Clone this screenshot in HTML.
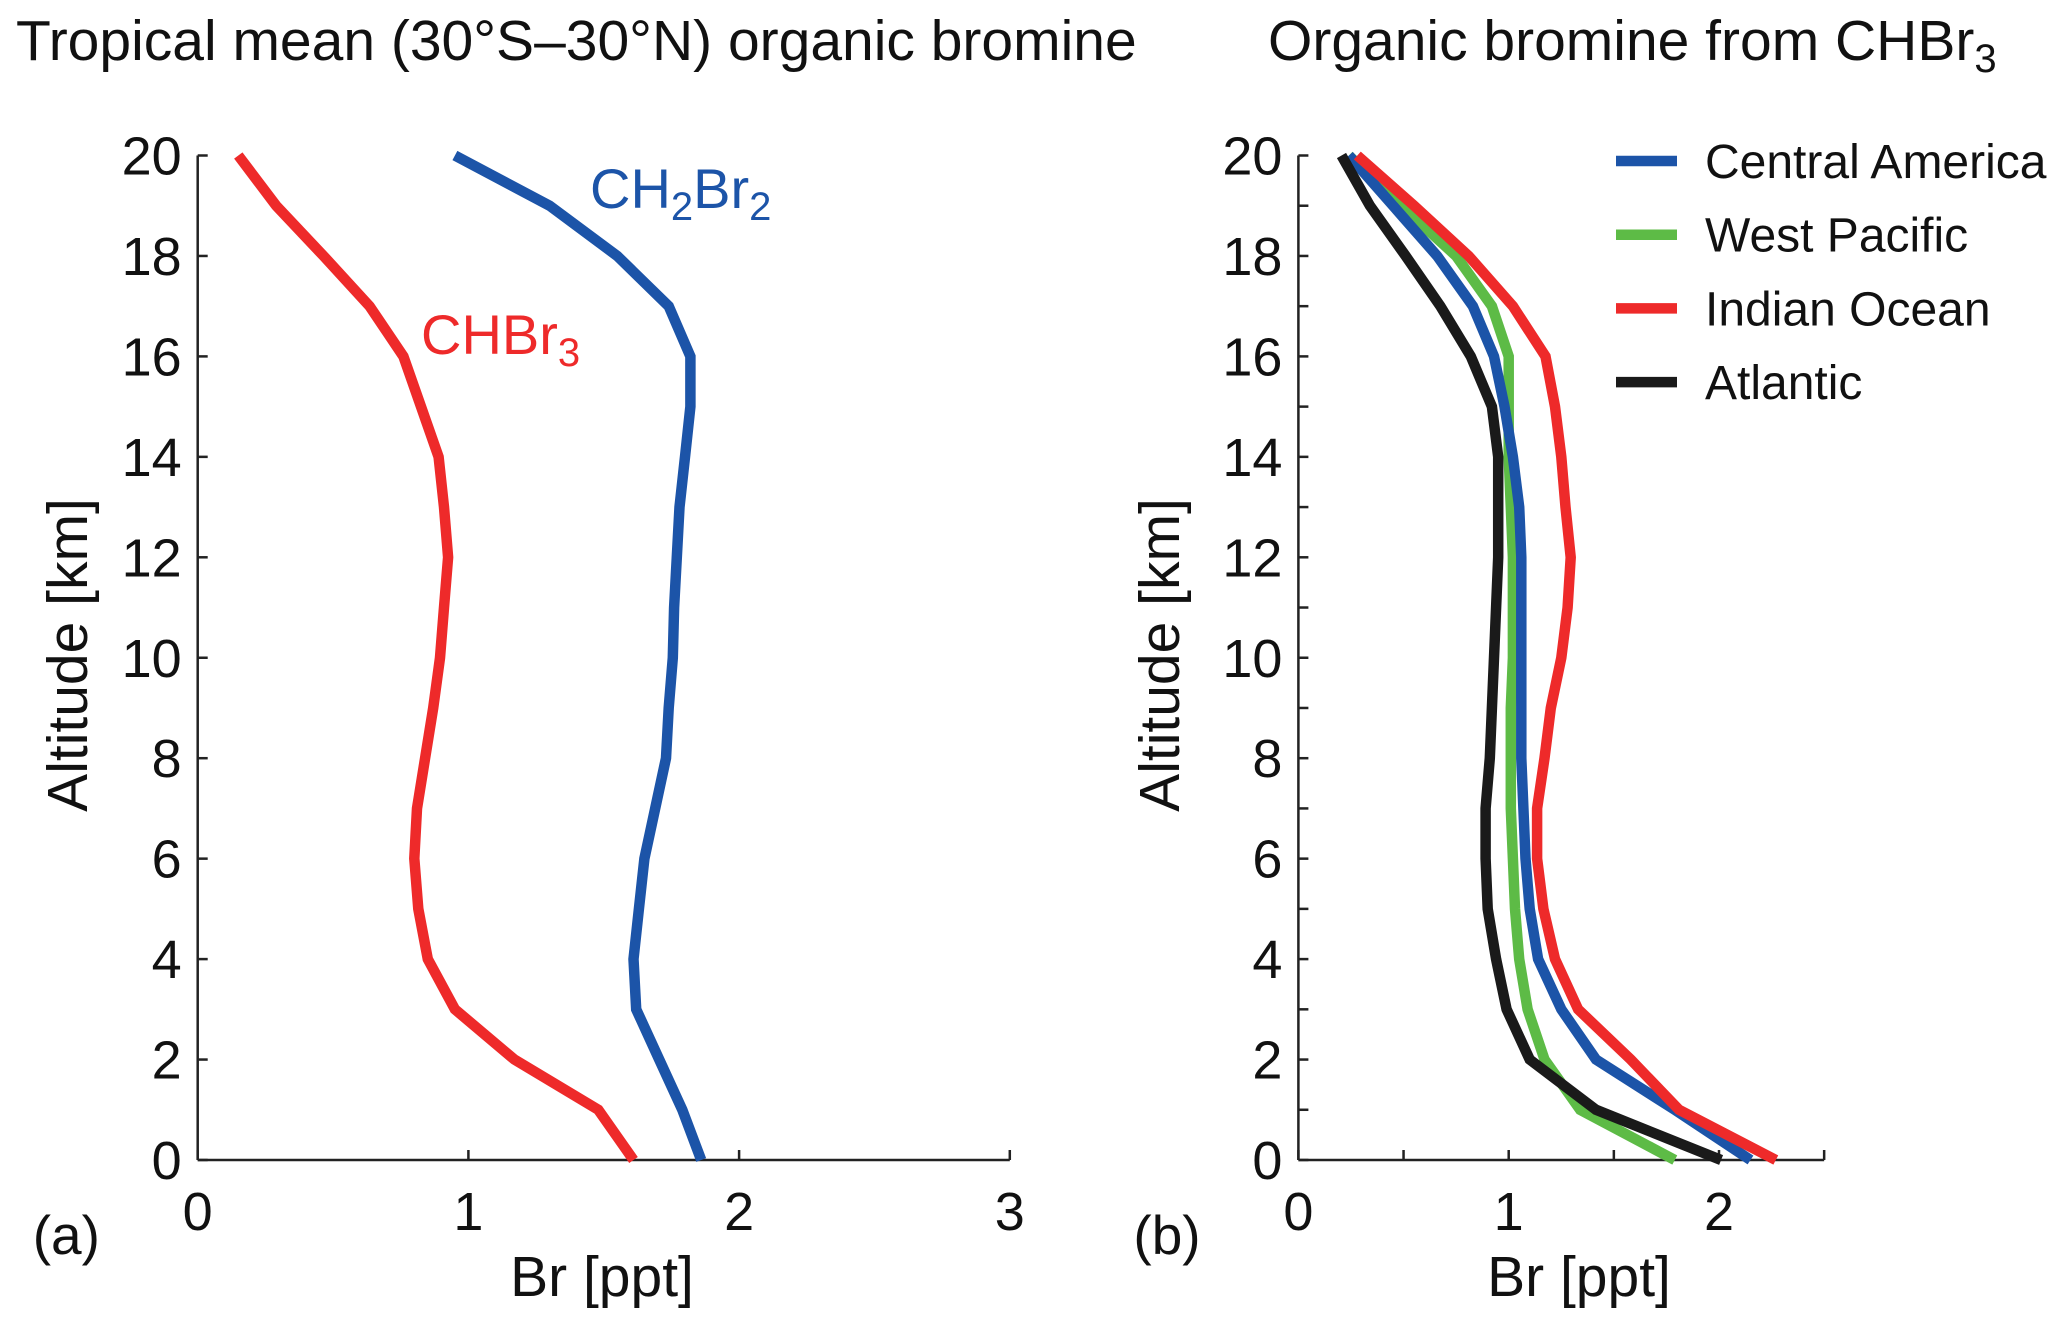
<!DOCTYPE html>
<html><head><meta charset="utf-8"><style>
html,body{margin:0;padding:0;background:#fff;}
svg{display:block;font-family:"Liberation Sans",sans-serif;}
</style></head><body>
<svg id="chart" width="2067" height="1321" viewBox="0 0 2067 1321">
<text x="16" y="60" font-size="57" fill="#111">Tropical mean (30°S–30°N) organic bromine</text>
<text x="1268" y="60" font-size="57" fill="#111">Organic bromine from CHBr<tspan font-size="40" dy="12">3</tspan></text>
<g id="pa"></g>
<g id="pb"></g>
</svg>
<script>
const altitudes=[0,1,2,3,4,5,6,7,8,9,10,11,12,13,14,15,16,17,18,19,20];
const chbr3=[1.61,1.48,1.17,0.95,0.85,0.815,0.80,0.81,0.84,0.87,0.895,0.91,0.925,0.91,0.89,0.825,0.76,0.635,0.465,0.29,0.15];
const ch2br2=[1.86,1.79,1.705,1.62,1.61,1.63,1.65,1.69,1.73,1.74,1.755,1.76,1.77,1.78,1.80,1.82,1.82,1.74,1.55,1.30,0.95];
const centralAmerica=[2.15,1.79,1.415,1.25,1.14,1.10,1.08,1.07,1.06,1.06,1.06,1.06,1.06,1.05,1.02,0.98,0.93,0.83,0.66,0.45,0.24];
const westPacific=[1.79,1.34,1.17,1.09,1.05,1.03,1.02,1.01,1.01,1.01,1.02,1.02,1.02,1.01,1.0,1.0,1.0,0.92,0.75,0.49,0.24];
const indianOcean=[2.27,1.81,1.58,1.33,1.22,1.165,1.135,1.135,1.17,1.20,1.25,1.28,1.295,1.27,1.25,1.22,1.175,1.02,0.81,0.55,0.28];
const atlantic=[2.01,1.415,1.10,0.99,0.94,0.90,0.89,0.89,0.91,0.92,0.93,0.94,0.95,0.95,0.95,0.92,0.82,0.675,0.51,0.34,0.205];
const xTicksA=[0,1,2,3];
const xTicksB=[0,1,2];
const yTickLabels=[0,2,4,6,8,10,12,14,16,18,20];
const legendNames=["Central America","West Pacific","Indian Ocean","Atlantic"];

const NS="http://www.w3.org/2000/svg";
function mk(parent,tag,attrs){const e=document.createElementNS(NS,tag);for(const k in attrs)e.setAttribute(k,attrs[k]);parent.appendChild(e);return e;}
const Y0=1160,Y20=155.5;
const yS=v=>Y0+(Y20-Y0)*v/20;

function axes(g,x0,pxPerUnit,xmax,xTicks,minorX,minorY,letter,labelX,yTitleX){
  const xS=v=>x0+v*pxPerUnit;
  const xa=mk(g,'line',{x1:x0,y1:Y0,x2:xS(xmax),y2:Y0,stroke:'#222','stroke-width':2.5});
  
  const ya=mk(g,'line',{x1:x0,y1:Y0,x2:x0,y2:Y20,stroke:'#222','stroke-width':2.5});
  
  for(let v=0;v<=xmax+1e-9;v+=minorX){
    const t=mk(g,'line',{x1:xS(v),y1:Y0,x2:xS(v),y2:Y0-10,stroke:'#222','stroke-width':2.5});
    
  }
  xTicks.forEach(v=>{
    const t=mk(g,'text',{x:xS(v),y:1230,'font-size':54,'text-anchor':'middle',fill:'#111'});t.textContent=v;
    
  });
  for(let v=0;v<=20;v+=minorY){
    const t=mk(g,'line',{x1:x0,y1:yS(v),x2:x0+10,y2:yS(v),stroke:'#222','stroke-width':2.5});
    
  }
  yTickLabels.forEach(v=>{
    const t=mk(g,'text',{x:x0-16,y:yS(v)+19,'font-size':54,'text-anchor':'end',fill:'#111'});t.textContent=v;
    
  });
  const xl=mk(g,'text',{x:labelX,y:1296,'font-size':57,'text-anchor':'middle',fill:'#111'});xl.textContent='Br [ppt]';
  
  const yl=mk(g,'text',{x:yTitleX,y:655,'font-size':57,'text-anchor':'middle',fill:'#111',transform:`rotate(-90 ${yTitleX} 655)`,'dominant-baseline':'central'});yl.textContent='Altitude [km]';
  
  const pl=mk(g,'text',{x:x0-165,y:1254,'font-size':55,fill:'#111'});pl.textContent='('+letter+')';
  
  return xS;
}
function series(g,xS,vals,color,name){
  const pts=vals.map((v,i)=>xS(v).toFixed(1)+','+yS(altitudes[i]).toFixed(1)).join(' ');
  const p=mk(g,'polyline',{points:pts,fill:'none',stroke:color,'stroke-width':10.5,'stroke-linejoin':'miter'});
  
  
}
const ga=document.getElementById('pa');
const xA=axes(ga,197.7,270.7,3,xTicksA,1,2,'a',602,68);
series(ga,xA,chbr3,'#ee2a2a','chbr3-line');
series(ga,xA,ch2br2,'#1c54a8','ch2br2-line');
let t=mk(ga,'text',{x:421,y:354,'font-size':56,fill:'#ee2a2a'});
t.innerHTML='CHBr<tspan font-size="40" dy="12">3</tspan>';

t=mk(ga,'text',{x:590,y:208,'font-size':56,fill:'#1c54a8'});
t.innerHTML='CH<tspan font-size="40" dy="12">2</tspan><tspan dy="-12">Br</tspan><tspan font-size="40" dy="12">2</tspan>';


const gb=document.getElementById('pb');
const xB=axes(gb,1298.4,210.3,2.5,xTicksB,0.5,1,'b',1579,1160);
const colors=['#1c54a8','#5dbb46','#ee2a2a','#1a1a1a'];
const seriesNames=['central-america-line','west-pacific-line','indian-ocean-line','atlantic-line'];
series(gb,xB,westPacific,colors[1],seriesNames[1]);
series(gb,xB,centralAmerica,colors[0],seriesNames[0]);
series(gb,xB,indianOcean,colors[2],seriesNames[2]);
series(gb,xB,atlantic,colors[3],seriesNames[3]);
legendNames.forEach((n,i)=>{
  const y=161+i*73.7;
  const l=mk(gb,'line',{x1:1616,y1:y,x2:1677,y2:y,stroke:colors[i],'stroke-width':10.5});
  
  const tx=mk(gb,'text',{x:1705,y:y+17,'font-size':48,fill:'#111'});tx.textContent=n;
  
});
</script>
</body></html>
